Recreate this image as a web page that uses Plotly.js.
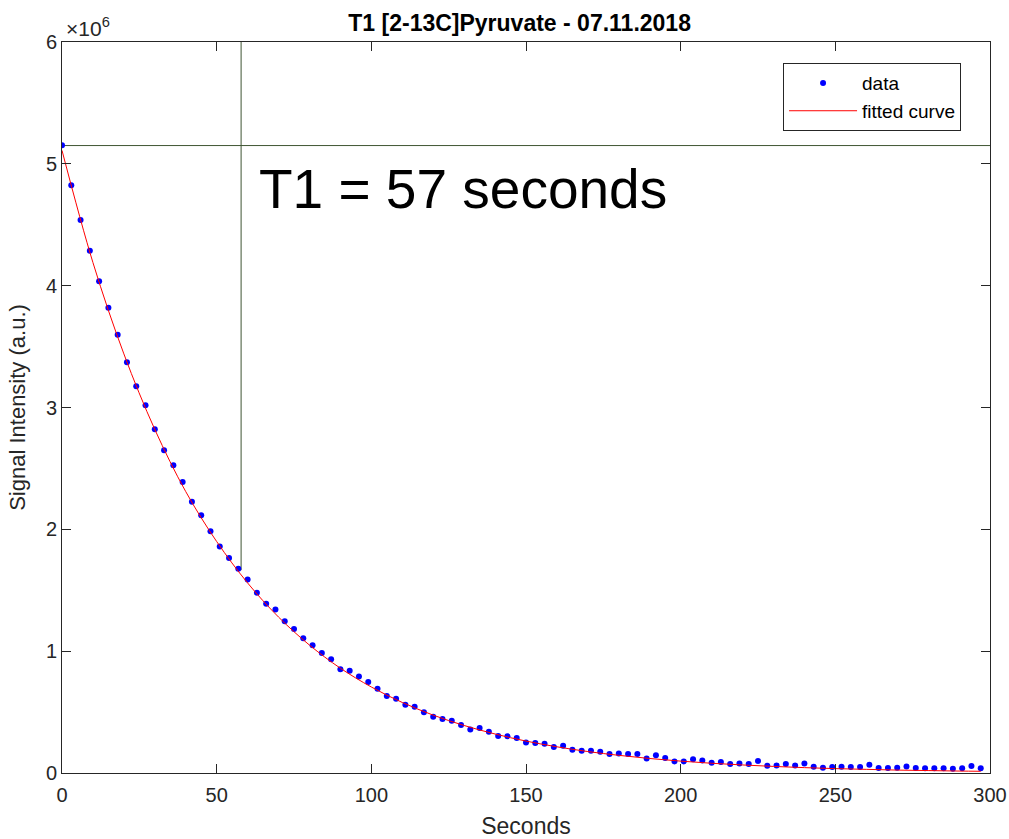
<!DOCTYPE html>
<html>
<head>
<meta charset="utf-8">
<script src="https://cdn.plot.ly/plotly-3.0.1.min.js"></script>
<style>
html,body{margin:0;padding:0;background:#fff;}
#chart{width:1009px;height:839px;}
</style>
</head>
<body>
<div id="chart"></div>
<script>
// Measured data (seconds, signal in units of 1e6)
const dataTime = [0,3,6,9,12,15,18,21,24,27,30,33,36,39,42,45,48,51,54,57,
  60,63,66,69,72,75,78,81,84,87,90,93,96,99,102,105,108,111,114,117,
  120,123,126,129,132,135,138,141,144,147,150,153,156,159,162,165,168,171,174,177,
  180,183,186,189,192,195,198,201,204,207,210,213,216,219,222,225,228,231,234,237,
  240,243,246,249,252,255,258,261,264,267,270,273,276,279,282,285,288,291,294,297];
const dataSignal = [5.153,4.824,4.540,4.286,4.036,3.818,3.598,3.371,3.174,3.018,
  2.821,2.649,2.525,2.389,2.227,2.115,1.984,1.860,1.765,1.677,
  1.588,1.480,1.390,1.343,1.245,1.182,1.105,1.048,0.985,0.933,
  0.851,0.840,0.793,0.747,0.692,0.632,0.610,0.561,0.544,0.498,
  0.462,0.443,0.429,0.394,0.358,0.370,0.339,0.304,0.301,0.287,
  0.251,0.246,0.241,0.213,0.224,0.191,0.183,0.183,0.175,0.156,
  0.161,0.156,0.156,0.120,0.145,0.123,0.095,0.095,0.112,0.103,
  0.085,0.090,0.074,0.079,0.074,0.099,0.060,0.062,0.074,0.062,
  0.079,0.052,0.044,0.049,0.052,0.049,0.049,0.068,0.041,0.041,
  0.044,0.054,0.041,0.038,0.038,0.038,0.035,0.038,0.057,0.038];
// Fitted curve
const fitTime = [0,10,20,30,40,50,60,70,80,90,100,110,120,130,140,150,160,170,180,190,200,210,220,230,240,250,260,270,280,290,297];
const fitSignal = [5.11,4.19,3.44,2.82,2.31,1.90,1.56,1.28,1.05,0.860,0.706,0.579,0.475,0.390,0.320,0.262,0.215,0.176,0.145,0.119,0.0975,0.080,0.066,0.054,0.044,0.036,0.030,0.024,0.020,0.016,0.014];
// Reference lines
const t1Line = 57.9;        // vertical marker (s)
const t1LineBottom = 1.665; // where it meets the curve (1e6)
const startLevel = 5.15;    // horizontal marker (1e6)
const scale = 1e6;

const titleText = 'T1 [2-13C]Pyruvate - 07.11.2018';
const xTitle = 'Seconds';
const yTitle = 'Signal Intensity (a.u.)';
const bigLabel = 'T1 = 57 seconds';

const refColor = '#3f5533';
const axisColor = '#262626';
const fontFam = '"Liberation Sans", Arial, Helvetica, sans-serif';

const traces = [
  {x:[0,300], y:[startLevel*scale,startLevel*scale], mode:'lines', line:{color:refColor,width:1}, showlegend:false, hoverinfo:'skip'},
  {x:[t1Line,t1Line], y:[t1LineBottom*scale,6*scale], mode:'lines', line:{color:refColor,width:1}, showlegend:false, hoverinfo:'skip'},
  {x:dataTime, y:dataSignal.map(v=>v*scale), mode:'markers', name:'data', marker:{color:'#0000ff', size:6}},
  {x:fitTime, y:fitSignal.map(v=>v*scale), mode:'lines', name:'fitted curve', line:{color:'#ff0000', width:1, shape:'spline'}}
];

const axBase = {
  showline:true, mirror:'ticks', linecolor:axisColor, linewidth:1,
  ticks:'inside', ticklen:9, tickwidth:1, tickcolor:axisColor,
  showgrid:false, zeroline:false,
  tickfont:{family:fontFam, size:20, color:axisColor}
};

const layout = {
  width:1009, height:839,
  margin:{l:62, r:19, t:42, b:66},
  paper_bgcolor:'#fff', plot_bgcolor:'#fff',
  font:{family:fontFam, color:axisColor},
  title:{text:'<b>'+titleText+'</b>', font:{family:fontFam, size:23, color:'#000'}, x:0.515, xanchor:'center', y:0.973, yref:'container', yanchor:'middle'},
  xaxis:Object.assign({}, axBase, {range:[0,300], tickvals:[0,50,100,150,200,250,300], ticktext:['0','50','100','150','200','250','300'],
    ticklabelstandoff:4,
    title:{text:xTitle, font:{family:fontFam, size:23, color:axisColor}, standoff:12}}),
  yaxis:Object.assign({}, axBase, {range:[0,6*scale], tickvals:[0,1e6,2e6,3e6,4e6,5e6,6e6], ticktext:['0','1','2','3','4','5','6'],
    title:{text:yTitle, font:{family:fontFam, size:22, color:axisColor}, standoff:14}}),
  legend:{x:0.777, y:0.971, xanchor:'left', yanchor:'top', bgcolor:'#fff', bordercolor:axisColor, borderwidth:1,
    font:{family:fontFam, size:19, color:'#000'}, tracegroupgap:0, itemwidth:68},
  annotations:[
    {xref:'paper', yref:'paper', x:0.002, y:1.0, xanchor:'left', yanchor:'bottom', showarrow:false,
      text:'×10<sup>6</sup>', font:{family:fontFam, size:21, color:axisColor}},
    {xref:'x', yref:'y', x:63, y:4.79*scale, xanchor:'left', yanchor:'middle', showarrow:false,
      text:bigLabel, font:{family:fontFam, size:55, color:'#000'}}
  ]
};

Plotly.newPlot('chart', traces, layout, {displayModeBar:false, staticPlot:true});
</script>
</body>
</html>
